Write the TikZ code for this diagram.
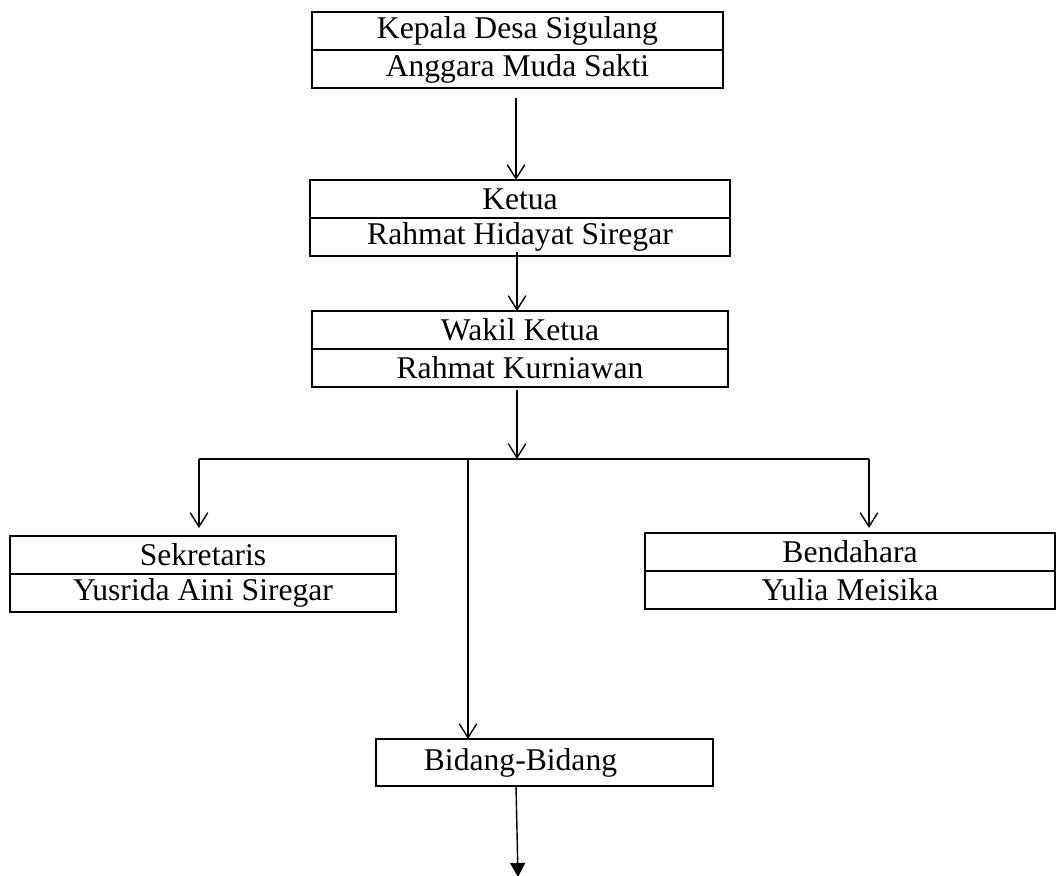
\documentclass[tikz,border=0pt]{standalone}
\usepackage{fontspec}
\setmainfont{Liberation Serif}
\usetikzlibrary{arrows.meta,positioning}

\tikzset{
  jabatan/.style={draw,rectangle,line width=1pt,outer sep=0pt,minimum height=0.76cm,inner sep=0pt,
    font=\fontsize{18}{20}\selectfont},
  garis/.style={line width=0.8pt},
  panah/.style={garis,-{Straight Barb[length=8pt,width=10pt]}},
  panahpenuh/.style={garis,-{Triangle[length=8pt,width=8.5pt]}},
}

\begin{document}
\begin{tikzpicture}[x=0.02cm,y=-0.02cm]
  \useasboundingbox (0,0) rectangle (1057,875);

  % kepala desa
  \node[jabatan,minimum width=8.22cm] (kades) at (517.5,31) {Kepala Desa Sigulang};
  \node[jabatan,minimum width=8.22cm,below=0pt of kades] (kadesnama) {Anggara Muda Sakti};
  % ketua
  \node[jabatan,minimum width=8.4cm] (ketua) at (520,199) {Ketua};
  \node[jabatan,minimum width=8.4cm,below=0pt of ketua] (ketuanama) {Rahmat Hidayat Siregar};
  % wakil ketua
  \node[jabatan,minimum width=8.32cm] (wakil) at (520,330) {Wakil Ketua};
  \node[jabatan,minimum width=8.32cm,below=0pt of wakil] (wakilnama) {Rahmat Kurniawan};
  % sekretaris dan bendahara
  \node[jabatan,minimum width=7.72cm] (sekretaris) at (203,555) {Sekretaris};
  \node[jabatan,minimum width=7.72cm,below=0pt of sekretaris] (sekretarisnama) {Yusrida Aini Siregar};
  \node[jabatan,minimum width=8.2cm] (bendahara) at (850,552) {Bendahara};
  \node[jabatan,minimum width=8.2cm,below=0pt of bendahara] (bendaharanama) {Yulia Meisika};
  % bidang
  \node[jabatan,minimum width=6.74cm,minimum height=0.94cm] (bidang) at (544.5,762.5) {Bidang-Bidang\kern0.96cm};

  \coordinate (turun1) at ([xshift=-0.03cm,yshift=-0.2cm]kadesnama.south);
  \coordinate (turun2) at ([xshift=-0.06cm,yshift=0.08cm]ketuanama.south);
  \coordinate (turun3) at ([xshift=-0.06cm,yshift=-0.06cm]wakilnama.south);
  \coordinate (turun4) at ([xshift=-0.57cm]bidang.south);
  \coordinate (cabang) at (turun3 |- 0,459);
  \coordinate (kiri)   at (199,459);
  \coordinate (kanan)  at (869,459);
  \coordinate (tengah) at (468,459);
  \coordinate (akhir)  at (518,877);

  \draw[panah] (turun1) -- (turun1 |- ketua.north);
  \draw[panah] (turun2) -- (turun2 |- wakil.north);
  \draw[panah] (turun3) -- (cabang);
  \draw[garis] (kiri) -- (kanan);
  \draw[panah,shorten >=0.16cm] (kiri) -- (kiri |- sekretaris.north);
  \draw[panah,shorten >=0.1cm] (kanan) -- (kanan |- bendahara.north);
  \draw[panah] (tengah) -- (tengah |- bidang.north);
  \draw[panahpenuh] (turun4) -- (akhir);
\end{tikzpicture}
\end{document}
